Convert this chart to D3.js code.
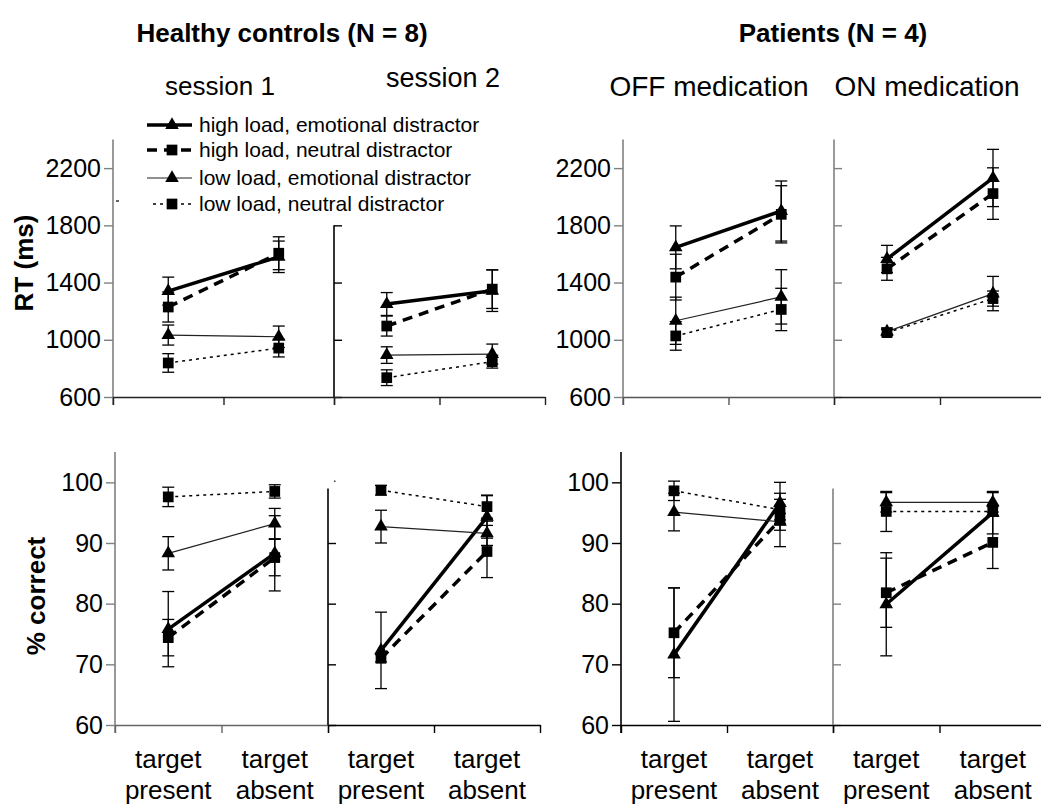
<!DOCTYPE html>
<html><head><meta charset="utf-8">
<script src="https://cdn.jsdelivr.net/npm/d3@7"></script>
<style>body{margin:0;background:#fff}svg{display:block;font-family:"Liberation Sans",Arial,sans-serif}</style>
</head><body><svg id="c" width="1041" height="808"></svg>
<script>
// ---------- data ----------
const categories = ["target present", "target absent"];
const groupTitles = ["Healthy controls (N = 8)", "Patients (N = 4)"];
const panelTitles = ["session 1", "session 2", "OFF medication", "ON medication"];
const seriesNames = ["high load, emotional distractor", "high load, neutral distractor",
                     "low load, emotional distractor", "low load, neutral distractor"];
const rtTicks = [600, 1000, 1400, 1800, 2200];
const accTicks = [60, 70, 80, 90, 100];
const yLabelTop = "RT (ms)";
const yLabelBottom = "% correct";

// RT (ms): [panel][present, absent]
const rtHighEmo    = [[1340,1580],[1250,1343],[1646,1900],[1565,2131]];
const rtHighEmoErr = [[98,110],[80,145],[150,210],[95,200]];
const rtHighNeu    = [[1229,1605],[1096,1354],[1438,1877],[1496,2022]];
const rtHighNeuErr = [[105,115],[70,135],[160,200],[80,180]];
const rtLowEmo     = [[1033,1021],[893,900],[1133,1300],[1057,1323]];
const rtLowEmoErr  = [[70,75],[58,70],[165,190],[25,120]];
const rtLowNeu     = [[838,942],[735,847],[1027,1212],[1050,1288]];
const rtLowNeuErr  = [[65,62],[55,45],[100,148],[22,53]];

// % correct: [panel][present, absent]
const accHighEmo    = [[75.8,88.3],[72.3,94.3],[71.6,96.6],[79.9,95.0]];
const accHighEmoErr = [[6.2,6.2],[6.3,3.5],[11.0,3.4],[8.5,3.5]];
const accHighNeu    = [[74.4,87.6],[71.0,88.6],[75.2,93.8],[81.8,90.1]];
const accHighNeuErr = [[3.0,3.0],[0.6,4.3],[7.4,4.4],[5.7,4.3]];
const accLowEmo     = [[88.3,93.2],[92.7,91.6],[95.1,93.5],[96.7,96.7]];
const accLowEmoErr  = [[2.75,2.5],[2.7,2.0],[3.1,1.4],[1.6,1.6]];
const accLowNeu     = [[97.6,98.5],[98.7,96.0],[98.6,95.5],[95.2,95.2]];
const accLowNeuErr  = [[1.6,1.1],[0.8,1.9],[1.6,1.7],[3.3,0.8]];

// ---------- layout / styles ----------
const svg = d3.select("#c");
const styles = [
  {w:3.5, dash:null, color:"#000", sym:d3.symbolTriangle},
  {w:3.5, dash:"10,7", color:"#000", sym:d3.symbolSquare},
  {w:1.2, dash:null, color:"#222", sym:d3.symbolTriangle},
  {w:1.5, dash:"3,4", color:"#000", sym:d3.symbolSquare}
];
function symPath(sym){ return d3.symbol().type(sym).size(sym===d3.symbolTriangle?80:115)(); }

const rows = [
  {y: d3.scaleLinear().domain([600,2400]).range([397,139.5]),
   panels:[[113,334],[334,545],[623,834],[834,1046]],
   axisMax:[2400,1800,2400,2400], ticks:rtTicks,
   axisColor:["#808080","#000","#808080","#808080"],
   xAxisColor:["#222","#222","#555","#222"],
   series:[[rtHighEmo,rtHighEmoErr],[rtHighNeu,rtHighNeuErr],[rtLowEmo,rtLowEmoErr],[rtLowNeu,rtLowNeuErr]],
   xLabels:false, label:yLabelTop},
  {y: d3.scaleLinear().domain([60,105]).range([725,452]),
   panels:[[115,328],[328,540],[621,833],[833,1046]],
   axisMax:[105,99,105,99], ticks:accTicks,
   axisColor:["#808080","#000","#000","#808080"],
   xAxisColor:["#666","#000","#000","#000"],
   series:[[accHighEmo,accHighEmoErr],[accHighNeu,accHighNeuErr],[accLowEmo,accLowEmoErr],[accLowNeu,accLowNeuErr]],
   xLabels:true, label:yLabelBottom}
];

rows.forEach((row, ri) => {
  const y = row.y;
  row.panels.forEach(([x0,x1], pi) => {
    const g = svg.append("g");
    const x = d3.scaleBand().domain(categories).range([x0,x1]);
    const cx = c => x(c) + x.bandwidth()/2;
    const first = (pi % 2 === 0);
    // y axis
    const yAx = first ? d3.axisLeft(y) : d3.axisRight(y);
    yAx.tickValues(row.ticks.filter(t => t <= row.axisMax[pi])).tickSize(first?9:8).tickSizeOuter(0)
       .tickFormat(first ? d3.format("d") : "");
    const ya = g.append("g").attr("transform",`translate(${x0},0)`).call(yAx);
    ya.select(".domain").remove();
    ya.append("line").attr("x1",0).attr("x2",0)
      .attr("y1",y(row.axisMax[pi])).attr("y2",y.range()[0]+ (first?8:0))
      .attr("stroke",row.axisColor[pi]).attr("stroke-width",1.6);
    ya.selectAll(".tick line").attr("stroke",row.axisColor[pi]).attr("stroke-width",1.4);
    ya.selectAll(".tick text").attr("font-size",25).attr("fill","#000").attr("x",-12)
      .attr("font-family",'"Liberation Sans",Arial,sans-serif');
    // x axis
    const xe = d3.scaleLinear().domain([0,2]).range([x0,x1]);
    const xAx = d3.axisBottom(xe).tickValues([0,1,2]).tickSize(8).tickSizeOuter(0).tickFormat("");
    const xa = g.append("g").attr("transform",`translate(0,${y.range()[0]})`).call(xAx);
    xa.select(".domain").attr("stroke",row.xAxisColor[pi]).attr("stroke-width",1.6);
    xa.selectAll(".tick line").attr("stroke",row.xAxisColor[pi]).attr("stroke-width",1.4);
    if (row.xLabels) {
      categories.forEach(c => {
        const words = c.split(" ");
        const t = g.append("text").attr("x",cx(c)).attr("text-anchor","middle").attr("font-size",26);
        t.append("tspan").attr("x",cx(c)).attr("y",y.range()[0]+43).text(words[0]);
        t.append("tspan").attr("x",cx(c)).attr("y",y.range()[0]+74).text(words[1]);
      });
    }
    // series
    const line = d3.line().x(d => cx(d.c)).y(d => y(d.v));
    row.series.forEach(([vals, errs], si) => {
      const st = styles[si];
      const pts = categories.map((c,ci) => ({c, v: vals[pi][ci], e: errs[pi][ci]}));
      g.append("path").attr("d", line(pts)).attr("fill","none").attr("stroke",st.color)
        .attr("stroke-width",st.w).attr("stroke-dasharray",st.dash);
      pts.forEach(p => {
        const xx = cx(p.c);
        g.append("line").attr("x1",xx).attr("x2",xx).attr("y1",y(p.v-p.e)).attr("y2",y(p.v+p.e))
          .attr("stroke","#000").attr("stroke-width",1.3);
        [p.v-p.e, p.v+p.e].forEach(v => g.append("line").attr("x1",xx-6).attr("x2",xx+6)
          .attr("y1",y(v)).attr("y2",y(v)).attr("stroke","#000").attr("stroke-width",1.3));
      });
    });
    row.series.forEach(([vals], si) => {
      const st = styles[si];
      categories.forEach((c,ci) => {
        g.append("path").attr("d",symPath(st.sym))
          .attr("transform",`translate(${cx(c)},${y(vals[pi][ci])})`).attr("fill","#000");
      });
    });
  });
  // y label
  svg.append("text").attr("transform",`translate(${ri===0?33:45},${ri===0?263:596}) rotate(-90)`)
    .attr("text-anchor","middle").attr("font-size",26).attr("font-weight","bold").text(row.label);
});

// small stray marks present in the original figure
svg.append("line").attr("x1",116).attr("x2",119).attr("y1",201).attr("y2",201).attr("stroke","#000").attr("stroke-width",1.2);
svg.append("rect").attr("x",334).attr("y",480.5).attr("width",1.5).attr("height",1.5).attr("fill","#444");

// titles
svg.append("text").attr("x",282).attr("y",42).attr("text-anchor","middle").attr("font-size",26)
  .attr("font-weight","bold").text(groupTitles[0]);
svg.append("text").attr("x",833).attr("y",42).attr("text-anchor","middle").attr("font-size",26)
  .attr("font-weight","bold").text(groupTitles[1]);
const ptX = [220,443,709,927], ptY = [95,87,96,96], ptSize = [26,27,28,28];
panelTitles.forEach((t,i) => svg.append("text").attr("x",ptX[i]).attr("y",ptY[i])
  .attr("text-anchor","middle").attr("font-size",ptSize[i]).text(t));

// legend
const legY = [125,150,178,204];
seriesNames.forEach((n,i) => {
  const st = styles[i];
  const lx0 = i===3 ? 153 : 147;
  svg.append("line").attr("x1",lx0).attr("x2",192).attr("y1",legY[i]).attr("y2",legY[i])
    .attr("stroke",st.color).attr("stroke-width",st.w).attr("stroke-dasharray",st.dash);
  svg.append("path").attr("d",symPath(st.sym)).attr("transform",`translate(172,${legY[i]})`).attr("fill","#000");
  svg.append("text").attr("x",199).attr("y",legY[i]+7).attr("font-size",21).text(n);
});
</script></body></html>
